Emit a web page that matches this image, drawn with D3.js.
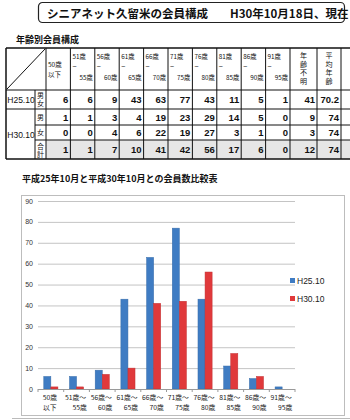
<!DOCTYPE html>
<html>
<head>
<meta charset="utf-8">
<script src="https://cdn.jsdelivr.net/npm/d3@7"></script>
<style>
  body { margin: 0; background: #fff; }
  svg { display: block; }
  text { font-family: "Noto Sans CJK JP", "Liberation Sans", sans-serif; fill: #111; }
  .num { font-family: "Liberation Sans", Arial, sans-serif; font-weight: bold; }
</style>
</head>
<body>
<svg id="page"></svg>
<script>
// age groups (table header + chart categories)
var ageFrom = ["50歳", "51歳", "56歳", "61歳", "66歳", "71歳", "76歳", "81歳", "86歳", "91歳"];
var ageTo = ["以下", "55歳", "60歳", "65歳", "70歳", "75歳", "80歳", "85歳", "90歳", "95歳"];

// table rows: counts per age group, then 年齢不明, 平均年齢
var h25 = [6, 6, 9, 43, 63, 77, 43, 11, 5, 1];
var h25Extra = ["41", "70.2"];
var h30Male = [1, 1, 3, 4, 19, 23, 29, 14, 5, 0];
var h30MaleExtra = ["9", "74"];
var h30Female = [0, 0, 4, 6, 22, 19, 27, 3, 1, 0];
var h30FemaleExtra = ["3", "74"];
var h30Total = [1, 1, 7, 10, 41, 42, 56, 17, 6, 0];
var h30TotalExtra = ["12", "74"];

// chart series
var seriesNames = ["H25.10", "H30.10"];
var yTicks = [0, 10, 20, 30, 40, 50, 60, 70, 80, 90];

var W = 350, H = 420;
var svg = d3.select("#page").attr("width", W).attr("height", H);

// ---- title box
svg.append("rect").attr("x", 38.5).attr("y", 2.5).attr("width", 306).attr("height", 20)
  .attr("rx", 4).attr("fill", "none").attr("stroke", "#222").attr("stroke-width", 1.2);
svg.append("text").attr("x", 47).attr("y", 17.5).attr("font-size", 11.5).attr("font-weight", "bold")
  .text("シニアネット久留米の会員構成");
svg.append("text").attr("x", 230).attr("y", 17.5).attr("font-size", 11.5).attr("font-weight", "bold")
  .text("H30年10月18日、現在");

svg.append("text").attr("x", 16).attr("y", 43).attr("font-size", 9).attr("font-weight", "bold")
  .text("年齢別会員構成");

// ---- table
var tbl = svg.append("g");
var colX = d3.scaleBand().domain(d3.range(ageFrom.length)).range([46, 290]);
var extraEdges = [290, 317, 341, 366];
var rowEdges = [48, 90, 109, 125, 140, 159];

// total row shading
tbl.append("rect").attr("x", 46).attr("y", rowEdges[4]).attr("width", 304).attr("height", rowEdges[5] - rowEdges[4])
  .attr("fill", "#e6e6e6");

function hline(y, x0, x1, w) {
  tbl.append("line").attr("x1", x0).attr("x2", x1).attr("y1", y).attr("y2", y)
    .attr("stroke", "#111").attr("stroke-width", w || 1);
}
function vline(x, y0, y1, w) {
  tbl.append("line").attr("x1", x).attr("x2", x).attr("y1", y0).attr("y2", y1)
    .attr("stroke", "#111").attr("stroke-width", w || 1);
}
hline(rowEdges[0], 6, 350, 1.5);
hline(rowEdges[1], 6, 350, 1.2);
hline(rowEdges[2], 6, 350, 1.2);
hline(rowEdges[3], 35, 350);
hline(rowEdges[4], 35, 350);
hline(rowEdges[5], 6, 350, 1.5);
vline(6, rowEdges[0], rowEdges[5], 1.5);
vline(35, rowEdges[1], rowEdges[5]);
ageFrom.forEach(function (d, i) { vline(colX(i), rowEdges[0], rowEdges[5]); });
extraEdges.forEach(function (x) { vline(x, rowEdges[0], rowEdges[5]); });
// diagonal
tbl.append("line").attr("x1", 7).attr("y1", rowEdges[1] - 1).attr("x2", 45).attr("y2", rowEdges[0] + 1)
  .attr("stroke", "#111").attr("stroke-width", 1);

// header texts
ageFrom.forEach(function (d, i) {
  var x0 = colX(i), x1 = x0 + colX.bandwidth();
  if (i === 0) {
    tbl.append("text").attr("x", x0 + 2).attr("y", 67).attr("font-size", 6.5).text(d);
    tbl.append("text").attr("x", x0 + 2).attr("y", 77).attr("font-size", 6.5).text(ageTo[i]);
  } else {
    tbl.append("text").attr("x", x0 + 2).attr("y", 59).attr("font-size", 6.3).text(d);
    tbl.append("text").attr("class", "num").style("font-weight", "normal")
      .attr("x", x0 + 2).attr("y", 68.5).attr("font-size", 7).text("~");
    tbl.append("text").attr("x", x1 - 2).attr("y", 79.5).attr("font-size", 6.3).attr("text-anchor", "end").text(ageTo[i]);
  }
});

// vertical labels as one text each
function vtext(str, cx, ytop, size, spacing) {
  tbl.append("text").attr("x", cx).attr("y", ytop)
    .attr("font-size", size)
    .style("writing-mode", "vertical-rl")
    .style("letter-spacing", spacing + "px")
    .text(str);
}
["年齢不明", "平均年齢"].forEach(function (label, k) {
  var cx = (extraEdges[k] + extraEdges[k + 1]) / 2;
  vtext(label, cx, 52, 7, 1.5);
});

// row labels
tbl.append("text").attr("x", 21).attr("y", 102.5).attr("font-size", 8.5).attr("text-anchor", "middle")
  .attr("class", "num").style("font-weight", "normal").text("H25.10");
tbl.append("text").attr("x", 21).attr("y", 137.5).attr("font-size", 8.5).attr("text-anchor", "middle")
  .attr("class", "num").style("font-weight", "normal").text("H30.10");
vtext("男女", 40.5, rowEdges[1] + 2, 7, 1);
vtext("男", 40.5, rowEdges[2] + 4.5, 7, 0);
vtext("女", 40.5, rowEdges[3] + 4, 7, 0);
vtext("合計", 40.5, rowEdges[4] + 2.5, 7, 1);

// numbers
var rows = [[h25, h25Extra], [h30Male, h30MaleExtra], [h30Female, h30FemaleExtra], [h30Total, h30TotalExtra]];
rows.forEach(function (r, ri) {
  var yc = (rowEdges[ri + 1] + rowEdges[ri + 2]) / 2 + 3.5;
  r[0].forEach(function (v, i) {
    tbl.append("text").attr("class", "num").attr("x", colX(i) + colX.bandwidth() - 2).attr("y", yc)
      .attr("font-size", 9.5).attr("text-anchor", "end").text(v);
  });
  r[1].forEach(function (v, k) {
    tbl.append("text").attr("class", "num").attr("x", extraEdges[k + 1] - 2).attr("y", yc)
      .attr("font-size", 9.5).attr("text-anchor", "end").text(v);
  });
});

// ---- chart
svg.append("text").attr("x", 22).attr("y", 182).attr("font-size", 9).attr("font-weight", "bold")
  .text("平成25年10月と平成30年10月との会員数比較表");

svg.append("rect").attr("x", 21.5).attr("y", 195.5).attr("width", 323).attr("height", 220)
  .attr("fill", "#fff").attr("stroke", "#bdbdbd");

var x = d3.scaleBand().domain(d3.range(ageFrom.length)).range([38, 295]).paddingInner(0.45).paddingOuter(0.225);
var xs = d3.scaleBand().domain(seriesNames).range([0, x.bandwidth()]);
var y = d3.scaleLinear().domain([0, 90]).range([389, 201]);
var colors = { "H25.10": "#3f7cc3", "H30.10": "#e0393b" };

var chart = svg.append("g");
// grid
chart.selectAll(".grid").data(yTicks.slice(1)).enter().append("line")
  .attr("x1", 38).attr("x2", 295).attr("y1", function (d) { return y(d) + 0.5; }).attr("y2", function (d) { return y(d) + 0.5; })
  .attr("stroke", "#c4c4c4").attr("stroke-width", 1);
chart.selectAll(".ytick").data(yTicks).enter().append("text")
  .attr("x", 33).attr("y", function (d) { return y(d) + 2.5; }).attr("text-anchor", "end")
  .attr("font-size", 7).style("fill", "#333").attr("class", "num").style("font-weight", "normal").text(function (d) { return d; });

var series = [h25, h30Total];
seriesNames.forEach(function (name, si) {
  chart.selectAll(".bar" + si).data(series[si]).enter().append("rect")
    .attr("x", function (d, i) { return x(i) + xs(name); })
    .attr("y", function (d) { return y(d); })
    .attr("width", xs.bandwidth())
    .attr("height", function (d) { return y(0) - y(d); })
    .attr("fill", colors[name])
    .attr("stroke", d3.color(colors[name]).darker(0.4))
    .attr("stroke-width", 0.5);
});

// x axis
chart.append("line").attr("x1", 38).attr("x2", 295).attr("y1", y(0) + 0.5).attr("y2", y(0) + 0.5)
  .attr("stroke", "#9a9a9a");
var step = x.step();
d3.range(ageFrom.length + 1).forEach(function (i) {
  var tx = 38 + i * step;
  chart.append("line").attr("x1", tx).attr("x2", tx).attr("y1", y(0)).attr("y2", y(0) + 3).attr("stroke", "#9a9a9a");
});
ageFrom.forEach(function (d, i) {
  var cx = x(i) + x.bandwidth() / 2;
  var first = i === 0 ? d : d + "～";
  chart.append("text").attr("x", cx - 1).attr("y", 400).attr("font-size", 6.8).attr("text-anchor", "middle")
    .style("fill", "#222").text(first);
  chart.append("text").attr("x", cx + (i === 0 ? -1 : 3)).attr("y", 409.5).attr("font-size", 6.8).attr("text-anchor", "middle")
    .style("fill", "#222").text(ageTo[i]);
});

// legend
seriesNames.forEach(function (name, si) {
  var ly = 281 + si * 18;
  chart.append("rect").attr("x", 290).attr("y", ly - 3).attr("width", 5).attr("height", 5).attr("fill", colors[name]);
  chart.append("text").attr("x", 297).attr("y", ly + 2.5).attr("font-size", 8.5).style("fill", "#222")
    .attr("class", "num").style("font-weight", "normal").text(name);
});

svg.append("line").attr("x1", 12).attr("x2", 350).attr("y1", 418.5).attr("y2", 418.5).attr("stroke", "#bbb");
</script>
</body>
</html>
